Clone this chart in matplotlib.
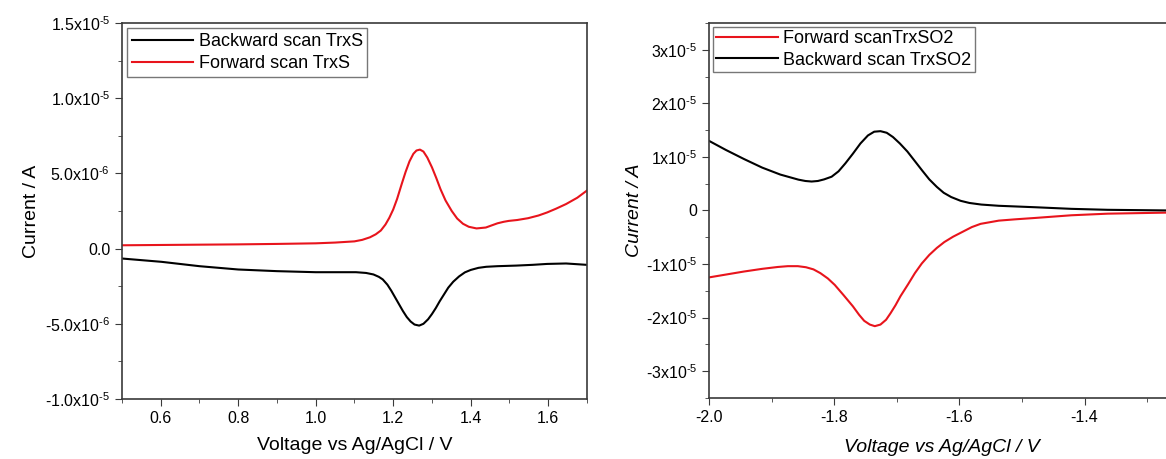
import numpy as np
import matplotlib
matplotlib.use("Agg")
import matplotlib.pyplot as plt
from matplotlib.ticker import FixedLocator, MultipleLocator

# font
plt.rcParams["font.family"] = ["Liberation Sans", "DejaVu Sans"]
plt.rcParams["mathtext.fontset"] = "custom"
plt.rcParams["mathtext.rm"] = "Liberation Sans"
plt.rcParams["mathtext.it"] = "Liberation Sans:italic"
plt.rcParams["font.size"] = 10

# ticks
plt.rcParams["xtick.direction"] = "out"
plt.rcParams["ytick.direction"] = "out"
plt.rcParams["xtick.major.size"] = 5
plt.rcParams["ytick.major.size"] = 5
plt.rcParams["xtick.minor.size"] = 3
plt.rcParams["ytick.minor.size"] = 3
plt.rcParams["axes.linewidth"] = 1.2

# data: TrxS (left)
v_fwd_s = [0.5, 0.6, 0.7, 0.8, 0.9, 1.0, 1.05, 1.1, 1.12, 1.14, 1.155, 1.168, 1.18, 1.19, 1.2,
           1.21, 1.222, 1.232, 1.242, 1.252, 1.26, 1.269, 1.278, 1.288, 1.3, 1.311, 1.322, 1.335,
           1.351, 1.365, 1.38, 1.395, 1.415, 1.439, 1.455, 1.469, 1.485, 1.498, 1.52, 1.548,
           1.575, 1.597, 1.62, 1.646, 1.675, 1.699]
i_fwd_s = [0.22e-6, 0.24e-6, 0.26e-6, 0.28e-6, 0.31e-6, 0.35e-6, 0.4e-6, 0.48e-6, 0.58e-6,
           0.75e-6, 0.95e-6, 1.2e-6, 1.6e-6, 2.05e-6, 2.6e-6, 3.3e-6, 4.3e-6, 5.1e-6, 5.8e-6,
           6.3e-6, 6.52e-6, 6.58e-6, 6.45e-6, 6.05e-6, 5.4e-6, 4.7e-6, 3.95e-6, 3.2e-6, 2.5e-6,
           2.0e-6, 1.65e-6, 1.45e-6, 1.34e-6, 1.4e-6, 1.55e-6, 1.68e-6, 1.78e-6, 1.84e-6,
           1.9e-6, 2.02e-6, 2.2e-6, 2.4e-6, 2.65e-6, 2.96e-6, 3.38e-6, 3.84e-6]
v_bwd_s = [0.5, 0.602, 0.7, 0.8, 0.9, 1.0, 1.104, 1.13, 1.149, 1.163, 1.173, 1.185, 1.195,
           1.205, 1.215, 1.225, 1.235, 1.245, 1.255, 1.267, 1.278, 1.29, 1.3, 1.31, 1.32, 1.331,
           1.342, 1.355, 1.37, 1.385, 1.4, 1.42, 1.44, 1.469, 1.518, 1.56, 1.597, 1.646, 1.699]
i_bwd_s = [-0.66e-6, -0.88e-6, -1.17e-6, -1.39e-6, -1.5e-6, -1.57e-6, -1.57e-6, -1.62e-6,
           -1.72e-6, -1.88e-6, -2.05e-6, -2.4e-6, -2.8e-6, -3.25e-6, -3.7e-6, -4.15e-6,
           -4.55e-6, -4.85e-6, -5.05e-6, -5.12e-6, -5.0e-6, -4.7e-6, -4.35e-6, -3.95e-6,
           -3.5e-6, -3.05e-6, -2.6e-6, -2.2e-6, -1.85e-6, -1.58e-6, -1.42e-6, -1.28e-6,
           -1.21e-6, -1.17e-6, -1.13e-6, -1.08e-6, -1.02e-6, -0.99e-6, -1.08e-6]

# data: TrxSO2 (right)
v_fwd_o = [-2.0, -1.944, -1.915, -1.89, -1.874, -1.858, -1.845, -1.833, -1.822, -1.81, -1.799,
           -1.785, -1.77, -1.76, -1.752, -1.743, -1.735, -1.726, -1.717, -1.71, -1.702, -1.694,
           -1.682, -1.671, -1.66, -1.648, -1.636, -1.624, -1.61, -1.595, -1.58, -1.566, -1.537,
           -1.51, -1.479, -1.421, -1.363, -1.266]
i_fwd_o = [-1.25e-5, -1.14e-5, -1.09e-5, -1.055e-5, -1.04e-5, -1.04e-5, -1.06e-5, -1.1e-5,
           -1.17e-5, -1.27e-5, -1.39e-5, -1.58e-5, -1.79e-5, -1.95e-5, -2.06e-5, -2.13e-5,
           -2.16e-5, -2.13e-5, -2.04e-5, -1.92e-5, -1.77e-5, -1.6e-5, -1.38e-5, -1.17e-5,
           -0.99e-5, -0.83e-5, -0.7e-5, -0.59e-5, -0.49e-5, -0.4e-5, -0.31e-5, -0.25e-5,
           -0.19e-5, -0.165e-5, -0.14e-5, -0.09e-5, -0.06e-5, -0.04e-5]
v_bwd_o = [-2.0, -1.973, -1.944, -1.915, -1.886, -1.857, -1.846, -1.836, -1.826, -1.816,
           -1.804, -1.793, -1.782, -1.77, -1.758, -1.746, -1.736, -1.726, -1.716, -1.706,
           -1.695, -1.683, -1.671, -1.659, -1.648, -1.636, -1.625, -1.613, -1.598, -1.584,
           -1.565, -1.537, -1.479, -1.421, -1.363, -1.266]
i_bwd_o = [1.3e-5, 1.13e-5, 0.96e-5, 0.8e-5, 0.67e-5, 0.575e-5, 0.55e-5, 0.54e-5, 0.55e-5,
           0.58e-5, 0.63e-5, 0.73e-5, 0.88e-5, 1.06e-5, 1.25e-5, 1.4e-5, 1.47e-5, 1.48e-5,
           1.45e-5, 1.37e-5, 1.25e-5, 1.1e-5, 0.92e-5, 0.74e-5, 0.58e-5, 0.44e-5, 0.33e-5,
           0.25e-5, 0.18e-5, 0.14e-5, 0.11e-5, 0.087e-5, 0.06e-5, 0.03e-5, 0.012e-5, 0.0]

left_yticks = [-1.0e-5, -5.0e-6, 0.0, 5.0e-6, 1.0e-5, 1.5e-5]
left_ylabels = [r"-1.0x10$^{\text{-}5}$", r"-5.0x10$^{\text{-}6}$", "0.0", r"5.0x10$^{\text{-}6}$",
                r"1.0x10$^{\text{-}5}$", r"1.5x10$^{\text{-}5}$"]
right_yticks = [-3e-5, -2e-5, -1e-5, 0, 1e-5, 2e-5, 3e-5]
right_ylabels = [r"-3x10$^{\text{-}5}$", r"-2x10$^{\text{-}5}$", r"-1x10$^{\text{-}5}$", "0",
                 r"1x10$^{\text{-}5}$", r"2x10$^{\text{-}5}$", r"3x10$^{\text{-}5}$"]

red = "#e8141c"
spine_c = "#3a3a3a"

fig = plt.figure(figsize=(11.66, 4.59), dpi=100)
ax1 = fig.add_axes([0.1046, 0.1307, 0.3988, 0.8193])
ax2 = fig.add_axes([0.608, 0.133, 0.400, 0.817])

# left panel
ax1.plot(v_bwd_s, i_bwd_s, color="black", linewidth=1.5, label="Backward scan TrxS")
ax1.plot(v_fwd_s, i_fwd_s, color=red, linewidth=1.5, label="Forward scan TrxS")
ax1.set_xlim(0.5, 1.7)
ax1.set_ylim(-1.0e-5, 1.5e-5)
ax1.set_xticks([0.6, 0.8, 1.0, 1.2, 1.4, 1.6])
ax1.set_xticklabels(["0.6", "0.8", "1.0", "1.2", "1.4", "1.6"])
ax1.xaxis.set_minor_locator(MultipleLocator(0.1))
ax1.yaxis.set_major_locator(FixedLocator(left_yticks))
ax1.set_yticklabels(left_ylabels)
ax1.yaxis.set_minor_locator(MultipleLocator(2.5e-6))
ax1.set_xlabel("Voltage vs Ag/AgCl / V", fontsize=14, labelpad=8)
ax1.set_ylabel("Current / A", fontsize=14, labelpad=4)
ax1.legend(loc="upper left", fontsize=13, frameon=True, fancybox=False,
           edgecolor="#555555", borderaxespad=0.3, handlelength=3.4,
           handletextpad=0.3, borderpad=0.25, labelspacing=0.3)

# right panel
ax2.plot(v_fwd_o, i_fwd_o, color=red, linewidth=1.5, label="Forward scanTrxSO2")
ax2.plot(v_bwd_o, i_bwd_o, color="black", linewidth=1.5, label="Backward scan TrxSO2")
ax2.set_xlim(-2.0, -1.255)
ax2.set_ylim(-3.5e-5, 3.5e-5)
ax2.set_xticks([-2.0, -1.8, -1.6, -1.4])
ax2.set_xticklabels(["-2.0", "-1.8", "-1.6", "-1.4"])
ax2.xaxis.set_minor_locator(MultipleLocator(0.1))
ax2.yaxis.set_major_locator(FixedLocator(right_yticks))
ax2.set_yticklabels(right_ylabels)
ax2.yaxis.set_minor_locator(MultipleLocator(5e-6))
ax2.set_xlabel("Voltage vs Ag/AgCl / V", fontsize=14, style="italic", labelpad=10)
ax2.set_ylabel("Current / A", fontsize=14, style="italic", labelpad=2)
ax2.spines["right"].set_visible(False)
ax2.legend(loc="upper left", fontsize=13, frameon=True, fancybox=False,
           edgecolor="#555555", borderaxespad=0.2, handlelength=3.4,
           handletextpad=0.3, borderpad=0.2, labelspacing=0.25)

for ax in (ax1, ax2):
    for s in ax.spines.values():
        s.set_color(spine_c)
    ax.tick_params(which="both", colors="black", labelsize=11.5)
    ax.tick_params(which="both", color=spine_c)
    leg = ax.get_legend()
    leg.get_frame().set_linewidth(1.0)

plt.savefig("out.png", dpi=100)
